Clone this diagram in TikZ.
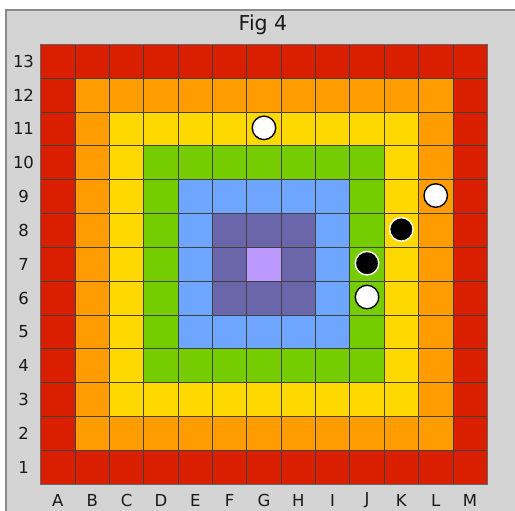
\documentclass[tikz,border=0pt]{standalone}
\usepackage{fontspec}
\setmainfont{DejaVu Sans}
\definecolor{ringA}{HTML}{DA1F00}
\definecolor{ringB}{HTML}{FF9C00}
\definecolor{ringC}{HTML}{FFD800}
\definecolor{ringD}{HTML}{75CC00}
\definecolor{ringE}{HTML}{6EA6FF}
\definecolor{ringF}{HTML}{6B66AA}
\definecolor{ringG}{HTML}{BB99FF}
\definecolor{bgc}{HTML}{D4D4D4}
\definecolor{framec}{HTML}{8A8A8A}
\definecolor{gridc}{HTML}{404040}
\tikzset{
  cellbox/.style={draw=gridc, line width=0.8pt},
  lab/.style={font=\fontsize{16.5}{18}\selectfont, inner sep=0pt, text=black!90},
  titlelab/.style={font=\fontsize{20.5}{23}\selectfont, inner sep=0pt, text=black!90},
  whitestone/.style={circle, fill=white, draw=black, line width=1.4pt, minimum size=23.5pt, inner sep=0pt},
  blackstone/.style={circle, fill=black, draw=white, line width=1.4pt, minimum size=23.5pt, inner sep=0pt}
}
\begin{document}
\begin{tikzpicture}[x=1pt,y=-1pt]
\def\xo{40.7}
\def\yo{44.3}
\def\cw{34.35}
\def\ch{33.83}
\useasboundingbox (0,0) rectangle (515,511);
\fill[white] (0,0) rectangle (515,511);
\draw[fill=bgc, draw=framec, line width=1.2pt] (6,10) rectangle (540,540);
\node[titlelab] (title) at (263,25) {Fig 4};
\foreach \i in {0,...,12} {
  \foreach \j in {0,...,12} {
    \pgfmathtruncatemacro\r{min(min(\i,\j),min(12-\i,12-\j))}
    \ifcase\r \def\cc{ringA}\or \def\cc{ringB}\or \def\cc{ringC}\or \def\cc{ringD}\or \def\cc{ringE}\or \def\cc{ringF}\or \def\cc{ringG}\fi
    \draw[cellbox, fill=\cc] ({\xo+\i*\cw},{\yo+\j*\ch}) rectangle ++(\cw,\ch);
  }
}
\draw[draw=black!60, line width=1pt] (\xo,\yo) rectangle ({\xo+13*\cw},{\yo+13*\ch});
\foreach \j in {0,...,12} {
  \pgfmathtruncatemacro\n{13-\j}
  \node[lab] (row\n) at (23.5,{\yo+(\j+0.5)*\ch}) {\n};
}
\foreach \L [count=\k from 0] in {A,B,C,D,E,F,G,H,I,J,K,L,M} {
  \node[lab] (col\L) at ({\xo+(\k+0.5)*\cw},500.5) {\L};
}
% stones: column index (A=0), row index from top (13 -> 0)
\node[whitestone] (g11) at ({\xo+6.5*\cw},{\yo+2.5*\ch-1}) {};
\node[whitestone] (l9) at ({\xo+11.5*\cw},{\yo+4.5*\ch-1}) {};
\node[blackstone] (k8) at ({\xo+10.5*\cw},{\yo+5.5*\ch-1}) {};
\node[blackstone] (j7) at ({\xo+9.5*\cw},{\yo+6.5*\ch-1}) {};
\node[whitestone] (j6) at ({\xo+9.5*\cw},{\yo+7.5*\ch-1}) {};
\end{tikzpicture}
\end{document}
